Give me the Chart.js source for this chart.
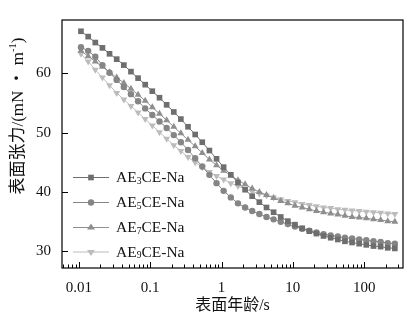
<!DOCTYPE html>
<html>
<head>
<meta charset="utf-8">
<script src="https://cdn.jsdelivr.net/npm/chart.js@4/dist/chart.umd.min.js"></script>
<style>
html,body{margin:0;padding:0;background:#fff;overflow:hidden}
canvas{display:block}
</style>
</head>
<body>
<canvas id="c" width="413" height="324"></canvas>
<script>
// Surface age (s) and dynamic surface tension (mN/m) of the four surfactants
const surfaceAge = [0.0107,0.0135,0.0170,0.0214,0.0269,0.0339,0.0427,0.0537,0.0676,0.0851,
  0.107,0.135,0.170,0.214,0.269,0.339,0.427,0.537,0.676,0.851,
  1.07,1.35,1.70,2.14,2.69,3.39,4.27,5.37,6.76,8.51,
  10.7,13.5,17.0,21.4,26.9,33.9,42.7,53.7,67.6,85.1,
  107,135,170,214,269];
const ae3 = [67.1,66.2,65.2,64.3,63.3,62.4,61.4,60.3,59.2,58.1,57.0,55.9,54.7,53.5,52.3,51.0,49.7,48.4,47.0,45.6,
  44.2,42.9,41.6,40.4,39.3,38.3,37.4,36.6,35.8,35.1,34.5,33.9,33.4,33.0,32.6,32.3,32.0,31.7,31.5,31.3,
  31.1,30.9,30.8,30.6,30.5];
const ae5 = [64.4,63.8,62.8,61.4,60.1,58.9,57.7,56.5,55.3,54.1,53.0,51.9,50.8,49.6,48.4,47.1,45.7,44.3,42.9,41.5,
  40.2,39.1,38.1,37.4,36.8,36.3,35.8,35.4,35.0,34.6,34.2,33.8,33.5,33.2,32.9,32.7,32.5,32.3,32.2,32.0,
  31.9,31.7,31.6,31.4,31.3];
const ae7 = [63.8,62.9,62.0,61.1,60.2,59.3,58.4,57.4,56.4,55.4,54.3,53.2,52.1,51.0,49.9,48.8,47.7,46.6,45.5,44.5,
  43.6,42.8,42.0,41.3,40.6,40.0,39.5,39.0,38.5,38.1,37.7,37.4,37.1,36.8,36.6,36.4,36.2,36.0,35.8,35.7,
  35.6,35.4,35.3,35.1,35.0];
const ae9 = [63.3,62.0,60.6,59.3,58.0,56.7,55.6,54.5,53.4,52.3,51.2,50.1,49.0,47.9,46.9,45.9,45.0,44.2,43.4,42.7,
  42.1,41.5,41.0,40.5,40.1,39.7,39.4,39.1,38.8,38.5,38.3,38.0,37.8,37.6,37.4,37.3,37.1,37.0,36.9,36.8,
  36.7,36.6,36.5,36.4,36.3];

const seriesNames = [['AE','3','CE-Na'],['AE','5','CE-Na'],['AE','7','CE-Na'],['AE','9','CE-Na']];
const xTickValues = [0.01, 0.1, 1, 10, 100];
const yTickValues = [30, 40, 50, 60];
const xTitle = '表面年龄/s';
const yTitle = [['表面张力/(mN ・ m',''],['-1','sup'],[')','']];

const FONT = '"Liberation Serif", "Noto Sans CJK SC", serif';

const styles = [
  {color:'#6e6e6e', point:'rect', radius:4.0, rot:0},
  {color:'#858585', point:'circle', radius:3.2, rot:0},
  {color:'#8e8e8e', point:'triangle', radius:4.0, rot:0},
  {color:'#bcbcbc', point:'triangle', radius:4.0, rot:180}
];
const seriesValues = [ae3, ae5, ae7, ae9];

const datasets = seriesValues.map((vals, i) => ({
  label: seriesNames[i].join(''),
  data: surfaceAge.map((x, j) => ({x: x, y: vals[j]})),
  borderColor: styles[i].color,
  backgroundColor: styles[i].color,
  borderWidth: 1,
  pointStyle: styles[i].point,
  pointRadius: styles[i].radius,
  pointRotation: styles[i].rot,
  pointBorderWidth: 0,
  pointBackgroundColor: styles[i].color,
  tension: 0
}));

// text runs: 'sub'/'sup' pieces are set smaller and shifted off the baseline
function richWidth(ctx, parts, size) {
  let w = 0;
  parts.forEach(p => {
    ctx.font = (p[1] ? size * 0.62 : size) + 'px ' + FONT;
    w += ctx.measureText(p[0]).width;
  });
  return w;
}
function drawRich(ctx, parts, x, y, size) {
  let cx = x;
  parts.forEach(p => {
    const s = p[1] ? size * 0.62 : size;
    ctx.font = s + 'px ' + FONT;
    let dy = 0;
    if (p[1] === 'sub') dy = size * 0.22;
    if (p[1] === 'sup') dy = -size * 0.36;
    ctx.fillText(p[0], cx, y + dy);
    cx += ctx.measureText(p[0]).width;
  });
}

function drawMarker(ctx, st, x, y) {
  const r = st.radius;
  ctx.beginPath();
  if (st.point === 'rect') {
    const s = Math.SQRT1_2 * r;
    ctx.rect(x - s, y - s, 2 * s, 2 * s);
  } else if (st.point === 'circle') {
    ctx.arc(x, y, r, 0, Math.PI * 2);
  } else {
    const dir = st.rot ? -1 : 1;
    const half = r * Math.sqrt(3) / 2;
    ctx.moveTo(x, y - dir * r);
    ctx.lineTo(x - half - 0.5, y + dir * r * 0.5);
    ctx.lineTo(x + half + 0.5, y + dir * r * 0.5);
    ctx.closePath();
  }
  ctx.fill();
}

const framePlugin = {
  id: 'frame',
  afterDraw(chart) {
    const ctx = chart.ctx;
    const a = chart.chartArea;
    const xs = chart.scales.x, ys = chart.scales.y;
    ctx.save();
    ctx.strokeStyle = '#000';
    ctx.lineWidth = 1.2;
    ctx.strokeRect(a.left, a.top, a.right - a.left, a.bottom - a.top);

    // inward tick marks: decades and 2..9 minors on the log axis, majors on the value axis
    ctx.lineWidth = 1;
    ctx.beginPath();
    for (let e = -3; e <= 2; e++) {
      for (let m = 1; m <= 9; m++) {
        const v = m * Math.pow(10, e);
        if (v < xs.min || v > xs.max) continue;
        const px = Math.round(xs.getPixelForValue(v)) + 0.5;
        const len = m === 1 ? 6 : 3.5;
        ctx.moveTo(px, a.bottom);
        ctx.lineTo(px, a.bottom - len);
      }
    }
    yTickValues.forEach(v => {
      const py = Math.round(ys.getPixelForValue(v)) + 0.5;
      ctx.moveTo(a.left, py);
      ctx.lineTo(a.left + 6, py);
    });
    ctx.stroke();

    // legend
    const rows = [177, 202, 227, 251.5];
    ctx.textBaseline = 'middle';
    ctx.textAlign = 'left';
    seriesNames.forEach((name, i) => {
      const st = styles[i];
      const y = rows[i];
      ctx.strokeStyle = st.color;
      ctx.fillStyle = st.color;
      ctx.lineWidth = 1;
      ctx.beginPath();
      ctx.moveTo(73, y + 0.5);
      ctx.lineTo(109, y + 0.5);
      ctx.stroke();
      drawMarker(ctx, st, 91, y + 0.5);
      ctx.fillStyle = '#111';
      drawRich(ctx, [[name[0], ''], [name[1], 'sub'], [name[2], '']], 116, y + 1, 15.5);
    });

    // axis titles
    ctx.fillStyle = '#111';
    ctx.textAlign = 'center';
    ctx.font = '16px ' + FONT;
    ctx.fillText(xTitle, (a.left + a.right) / 2, 306);

    ctx.textAlign = 'left';
    const size = 17;
    const w = richWidth(ctx, yTitle, size);
    ctx.translate(19, 116);
    ctx.rotate(-Math.PI / 2);
    drawRich(ctx, yTitle, -w / 2, 0, size);
    ctx.restore();
  }
};

new Chart(document.getElementById('c'), {
  type: 'line',
  data: {datasets: datasets},
  options: {
    responsive: false,
    animation: false,
    devicePixelRatio: 1,
    layout: {padding: {left: 0, top: 12, right: 10, bottom: 0}},
    plugins: {legend: {display: false}, tooltip: {enabled: false}},
    scales: {
      x: {
        type: 'logarithmic',
        min: 0.0058,
        max: 350,
        grid: {display: false, drawTicks: false},
        border: {display: false},
        afterBuildTicks: s => { s.ticks = xTickValues.map(v => ({value: v})); },
        afterFit: s => { s.height = 56; },
        ticks: {
          autoSkip: false,
          maxRotation: 0,
          padding: 11,
          color: '#111',
          font: {family: FONT, size: 15},
          callback: v => String(v)
        }
      },
      y: {
        type: 'linear',
        min: 27.2,
        max: 69.0,
        grid: {display: false, drawTicks: false},
        border: {display: false},
        afterBuildTicks: s => { s.ticks = yTickValues.map(v => ({value: v})); },
        afterFit: s => { s.width = 62; },
        ticks: {
          padding: 11,
          color: '#111',
          font: {family: FONT, size: 15},
          callback: v => String(v)
        }
      }
    }
  },
  plugins: [framePlugin]
});
</script>
</body>
</html>
